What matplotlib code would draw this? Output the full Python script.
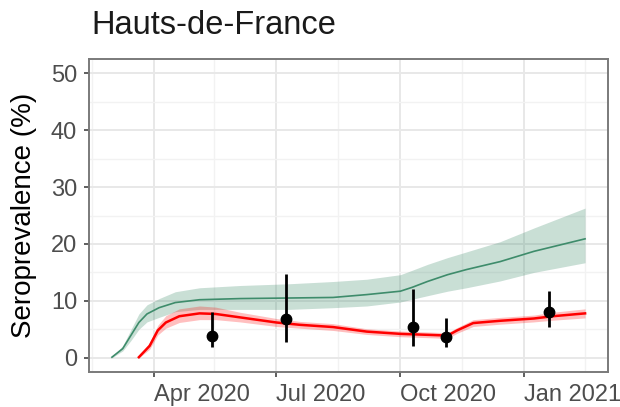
import datetime as dt
import matplotlib
matplotlib.use("Agg")
import matplotlib.pyplot as plt

plt.rcParams['font.family'] = ['Liberation Sans', 'DejaVu Sans']

D = dt.date

# modelled seroprevalence, all infections (green)
vert_dates = [D(2020, 3, 1), D(2020, 3, 9), D(2020, 3, 15), D(2020, 3, 21), D(2020, 3, 27),
              D(2020, 4, 5), D(2020, 4, 17), D(2020, 5, 5), D(2020, 6, 4), D(2020, 7, 10),
              D(2020, 8, 12), D(2020, 9, 6), D(2020, 10, 1), D(2020, 10, 10), D(2020, 10, 21),
              D(2020, 11, 5), D(2020, 11, 19), D(2020, 12, 14), D(2021, 1, 8), D(2021, 2, 15)]
vert_mid = [0.1, 1.6, 3.9, 6.2, 7.7, 8.8, 9.7, 10.2, 10.4, 10.5,
            10.6, 11.1, 11.7, 12.4, 13.4, 14.6, 15.5, 16.9, 18.7, 20.9]
vert_lo = [0.0, 1.2, 3.0, 5.0, 6.3, 7.1, 8.1, 8.5, 8.5, 8.5,
           8.8, 9.1, 9.8, 10.3, 10.9, 11.7, 12.3, 13.5, 15.0, 16.7]
vert_hi = [0.2, 2.1, 4.9, 7.7, 9.3, 10.4, 11.6, 12.3, 12.7, 13.0,
           13.4, 13.8, 14.6, 15.4, 16.4, 17.6, 18.6, 20.4, 22.8, 26.3]

# modelled seroprevalence with antibody waning (red)
rouge_dates = [D(2020, 3, 21), D(2020, 3, 29), D(2020, 4, 4), D(2020, 4, 10), D(2020, 4, 20),
               D(2020, 5, 5), D(2020, 5, 17), D(2020, 6, 4), D(2020, 7, 1), D(2020, 7, 18),
               D(2020, 8, 12), D(2020, 9, 6), D(2020, 10, 1), D(2020, 10, 25), D(2020, 11, 5),
               D(2020, 11, 12), D(2020, 11, 24), D(2020, 12, 14), D(2021, 1, 8), D(2021, 1, 22),
               D(2021, 2, 15)]
rouge_mid = [0.1, 2.1, 4.8, 6.2, 7.3, 7.8, 7.7, 7.1, 6.2, 5.8,
             5.4, 4.6, 4.2, 4.0, 3.9, 4.8, 6.1, 6.5, 6.9, 7.3, 7.8]
rouge_lo = [0.0, 1.5, 4.0, 5.2, 6.2, 6.7, 6.7, 6.3, 5.5, 5.2,
            4.8, 4.1, 3.7, 3.5, 3.4, 4.3, 5.5, 5.9, 6.3, 6.6, 7.0]
rouge_hi = [0.2, 2.7, 5.7, 7.4, 8.6, 9.1, 8.9, 8.0, 6.9, 6.4,
            6.0, 5.1, 4.7, 4.5, 4.4, 5.3, 6.7, 7.1, 7.5, 8.0, 8.6]

# observed seroprevalence (blood donors)
obs_dates = [D(2020, 5, 14), D(2020, 7, 8), D(2020, 10, 10), D(2020, 11, 4), D(2021, 1, 19)]
obs_val = [3.8, 6.8, 5.4, 3.7, 8.0]
obs_lo = [1.9, 2.8, 2.1, 1.9, 5.4]
obs_hi = [8.0, 14.8, 12.0, 7.0, 11.8]

xticks = [D(2020, 4, 1), D(2020, 7, 1), D(2020, 10, 1), D(2021, 1, 1)]
xtick_labels = ['Apr 2020', 'Jul 2020', 'Oct 2020', 'Jan 2021']
xminor = [D(2020, 2, 15), D(2020, 5, 16), D(2020, 8, 16), D(2020, 11, 16), D(2021, 2, 15)]

fig = plt.figure(figsize=(6.2, 4.07), dpi=100)
ax = fig.add_axes([89 / 620, 35 / 407, (608 - 89) / 620, (372 - 59) / 407])

vert = '#3E8C6B'
ax.fill_between(vert_dates, vert_lo, vert_hi, color=vert, alpha=0.28, lw=0, zorder=2)
ax.plot(vert_dates, vert_mid, color=vert, lw=1.2, zorder=3)

ax.fill_between(rouge_dates, rouge_lo, rouge_hi, color='#FF0000', alpha=0.25, lw=0, zorder=2)
ax.plot(rouge_dates, rouge_mid, color='#FF0000', lw=1.8, zorder=3)

err = [[v - lo for v, lo in zip(obs_val, obs_lo)], [hi - v for v, hi in zip(obs_val, obs_hi)]]
ax.errorbar(obs_dates, obs_val, yerr=err, fmt='o', color='black', ms=7.5,
            elinewidth=2.0, capsize=0, zorder=4)

ax.set_xlim(D(2020, 2, 13), D(2021, 3, 4))
ax.set_ylim(-2.5, 52.5)
ax.set_yticks([0, 10, 20, 30, 40, 50])
ax.set_yticks([5, 15, 25, 35, 45], minor=True)
ax.set_xticks(xticks)
ax.set_xticklabels(xtick_labels, ha='left')
ax.set_xticks(xminor, minor=True)

ax.grid(which='major', color='#E8E8E8', lw=1.4, zorder=0)
ax.grid(which='minor', color='#F2F2F2', lw=1.0, zorder=0)
ax.set_axisbelow(True)

for s in ax.spines.values():
    s.set_color('#7A7A7A')
    s.set_linewidth(1.4)

ax.tick_params(which='major', length=3.6, width=1.1, color='#333333',
               labelsize=17, labelcolor='#4D4D4D', pad=5)
ax.tick_params(which='minor', length=0)

fig.text(24 / 620, 1 - 215.5 / 407, 'Seroprevalence (%)', rotation=90,
         ha='center', va='center', fontsize=20, color='black')
fig.text(91 / 620, 1 - 34 / 407, 'Hauts-de-France', ha='left', va='baseline',
         fontsize=23.5, color='#1A1A1A')

fig.savefig('out.png', dpi=100)
